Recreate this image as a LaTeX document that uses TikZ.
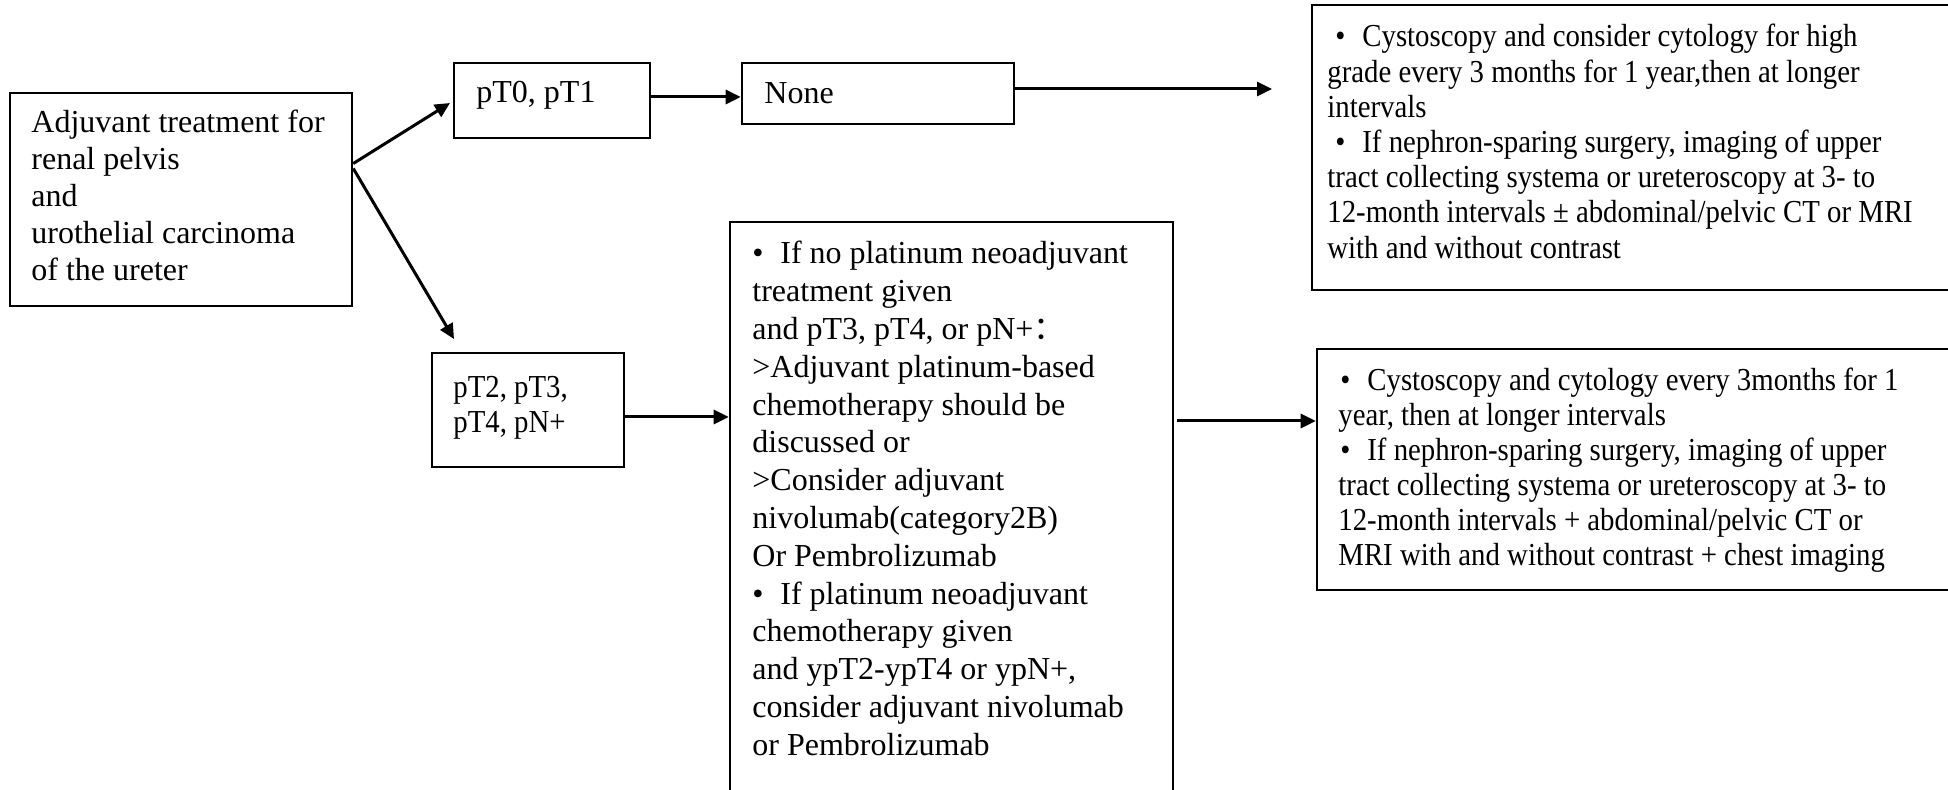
\documentclass[tikz,border=0pt]{standalone}
\usepackage{fontspec}
\setmainfont{Liberation Serif}
\newfontfamily\narrowserif[FakeStretch=0.9]{Liberation Serif}
\newfontfamily\cjkfont{Noto Sans CJK SC}
\usetikzlibrary{arrows.meta,calc,fit}
% bullet: optional lead-in, bullet glyph, then the gap to the text
\newcommand\bul[2][0pt]{\makebox[#2][l]{\hspace*{#1}•}}
% left-aligned lines with a fixed line pitch; baseline = first line
\newcommand\textlines[2]{\vtop{\baselineskip=#1\lineskiplimit=-\maxdimen\halign{##\hfil\cr#2\crcr}}}

\begin{document}
\begin{tikzpicture}[x=0.5pt,y=-0.5pt,
  box/.style={draw, line width=1.3pt, inner sep=0pt},
  txt/.style={anchor=base west, inner sep=0pt, font=\fontsize{16pt}{18pt}\selectfont},
  narrow/.style={font=\narrowserif\fontsize{16pt}{18pt}\selectfont},
  arr/.style={line width=1.5pt, -{Triangle[length=7.5pt,width=7pt]}}]
\useasboundingbox (0,0) rectangle (1948,790);
\clip (0,0) rectangle (1948,790);

% boxes
\node[box, fit={(10,93) (352,306)}] (main) {};
\node[box, fit={(454,63) (650,138)}] (pTa) {};
\node[box, fit={(742,63) (1014,124)}] (none) {};
\node[box, fit={(1312,5) (1970,290)}] (outA) {};
\node[box, fit={(432,353) (624,467)}] (pTb) {};
\node[box, fit={(730,222) (1173,810)}] (mid) {};
\node[box, fit={(1317,349) (1970,590)}] (outB) {};

% texts
\node[txt] (mainT) at (31,133) {\textlines{18.4pt}{%
Adjuvant treatment for\cr
renal pelvis\cr
and\cr
urothelial carcinoma\cr
of the ureter}};
\node[txt] (pTaT) at (476,103) {pT0, pT1};
\node[txt] (noneT) at (764,104) {None};
\node[txt, narrow] (outAT) at (1327,47) {\textlines{17.6pt}{%
\bul[4pt]{17.5pt}Cystoscopy and consider cytology for high\cr
grade every 3 months for 1 year,then at longer\cr
intervals\cr
\bul[4pt]{17.5pt}If nephron-sparing surgery, imaging of upper\cr
tract collecting systema or ureteroscopy at 3- to\cr
12-month intervals ± abdominal/pelvic CT or MRI\cr
with and without contrast}};
\node[txt, narrow] (pTbT) at (453,398) {\textlines{17.5pt}{%
pT2, pT3,\cr
pT4, pN+}};
\node[txt] (midT) at (752,264) {\textlines{18.9pt}{%
\bul{14pt}If no platinum neoadjuvant\cr
treatment given\cr
and pT3, pT4, or pN+{\cjkfont ：}\cr
>Adjuvant platinum-based\cr
chemotherapy should be\cr
discussed or\cr
>Consider adjuvant\cr
nivolumab(category2B)\cr
Or Pembrolizumab\cr
\bul{14pt}If platinum neoadjuvant\cr
chemotherapy given\cr
and ypT2-ypT4 or ypN+,\cr
consider adjuvant nivolumab\cr
or Pembrolizumab}};
\node[txt, narrow] (outBT) at (1338,391) {\textlines{17.5pt}{%
\bul[1pt]{14.5pt}Cystoscopy and cytology every 3months for 1\cr
year, then at longer intervals\cr
\bul[1pt]{14.5pt}If nephron-sparing surgery, imaging of upper\cr
tract collecting systema or ureteroscopy at 3- to\cr
12-month intervals + abdominal/pelvic CT or\cr
MRI with and without contrast + chest imaging}};

% connectors
\coordinate (tipA) at (450,103);
\coordinate (tipB) at (454,339);
\coordinate (tipC) at (1272,89);
\draw[arr] ($(main.east)+(0,-36)$) -- (tipA);
\draw[arr] ($(main.east)+(0,-31)$) -- (tipB);
\coordinate (s1) at ($(pTa.east)+(0,-3.5)$);
\draw[arr] (s1) -- (s1 -| none.west);
\draw[arr] ($(none.east)+(0,-4.5)$) -- (tipC);
\coordinate (s2) at ($(pTb.east)+(0,7)$);
\draw[arr] (s2) -- (s2 -| mid.west);
\coordinate (s3) at ($(mid.east |- 0,421)+(3,0)$);
\draw[arr] (s3) -- (s3 -| outB.west);
\end{tikzpicture}
\end{document}
